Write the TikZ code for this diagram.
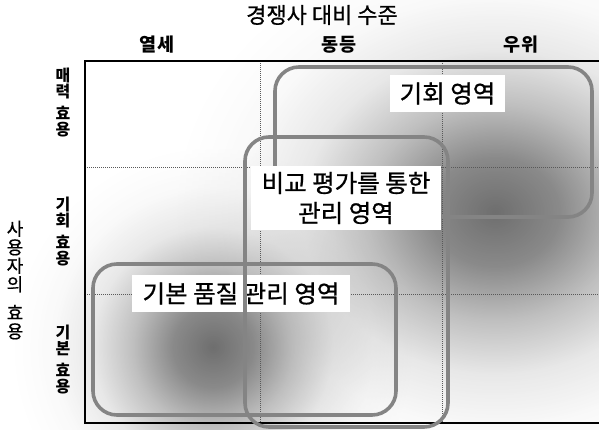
\documentclass[tikz,border=0pt]{standalone}
\usepackage{fontspec}
\setmainfont{Noto Sans CJK KR}
\newfontfamily\krlab[WordSpace=1.9,FakeBold=0.8]{Noto Sans CJK KR}
\newfontfamily\krttl[WordSpace=2,FakeBold=0.8]{Noto Sans CJK KR}
\newfontfamily\krside[FakeBold=0.8]{Noto Sans CJK KR}
\usetikzlibrary{fadings}
\definecolor{boxgray}{RGB}{132,132,132}
\definecolor{blobgray}{RGB}{110,110,110}
\pgfdeclareradialshading{blobshade}{\pgfpointorigin}{color(0bp)=(white); color(5bp)=(white!81!black); color(10bp)=(white!44!black); color(15bp)=(white!16!black); color(20bp)=(white!4!black); color(25bp)=(black); color(50bp)=(black)}
\pgfdeclarefading{blob}{\pgfuseshading{blobshade}}
\begin{document}
\begin{tikzpicture}[x=1pt,y=-1pt,
  regbox/.style={draw=boxgray, line width=3.6pt, rounded corners=24pt},
  gridline/.style={draw=black!65, line width=0.7pt, dash pattern=on 1pt off 1pt},
  frameline/.style={draw=black, line width=2pt},
  lab/.style={fill=white, inner sep=0pt, align=center, font=\krlab\fontsize{24.5}{30}\selectfont},
  title/.style={inner sep=0pt, font=\krttl\fontsize{22}{24}\selectfont},
  collab/.style={inner sep=0pt, font=\bfseries\fontsize{18.5}{20}\selectfont},
  rowlab/.style={inner sep=0pt, align=center, font=\bfseries\fontsize{16}{16}\selectfont},
  sidelab/.style={inner sep=0pt, align=center, font=\krside\fontsize{18}{18.5}\selectfont}]
\useasboundingbox (0,0) rectangle (599,430);
% shading blobs
\fill[blobgray, path fading=blob] (495,212) ellipse [x radius=320pt, y radius=270pt];
\fill[blobgray, path fading=blob] (213,347) circle (200pt);
% grid
\draw[gridline] (260,61) -- (260,423);
\draw[gridline] (442,61) -- (442,423);
\draw[gridline] (85,167) -- (599,167);
\draw[gridline] (85,294) -- (599,294);
% frame
\draw[frameline] (600,61) -- (85,61) -- (85,423) -- (600,423);
% headings
\node[title] (ttl) at (322,15) {경쟁사 대비 수준};
\node[collab] (c1) at (157,45) {열세};
\node[collab] (c2) at (339,45) {동등};
\node[collab] (c3) at (521,45) {우위};
\node[rowlab] (r1) at (63,103) {매\\력\\[6pt]효\\용};
\node[rowlab] (r2) at (63,231.5) {기\\회\\[6pt]효\\용};
\node[rowlab] (r3) at (63,360) {기\\본\\[6pt]효\\용};
\node[sidelab] (side) at (15,280) {사\\용\\자\\의\\[10pt]효\\용};
% regions
\draw[regbox] (275,67) rectangle (592,217);
\node[lab, minimum width=115pt, minimum height=37pt] (l1) at (447.5,93.5) {기회 영역};
\node[lab, minimum width=218pt, minimum height=37pt] (l3) at (241,293.5) {기본 품질 관리 영역};
\draw[regbox] (93,264) rectangle (396,415);
\draw[regbox] (245,137) rectangle (448,427);
\node[lab, minimum width=190pt, minimum height=64pt] (l2) at (346,198) {비교 평가를 통한\\관리 영역};
\end{tikzpicture}
\end{document}
